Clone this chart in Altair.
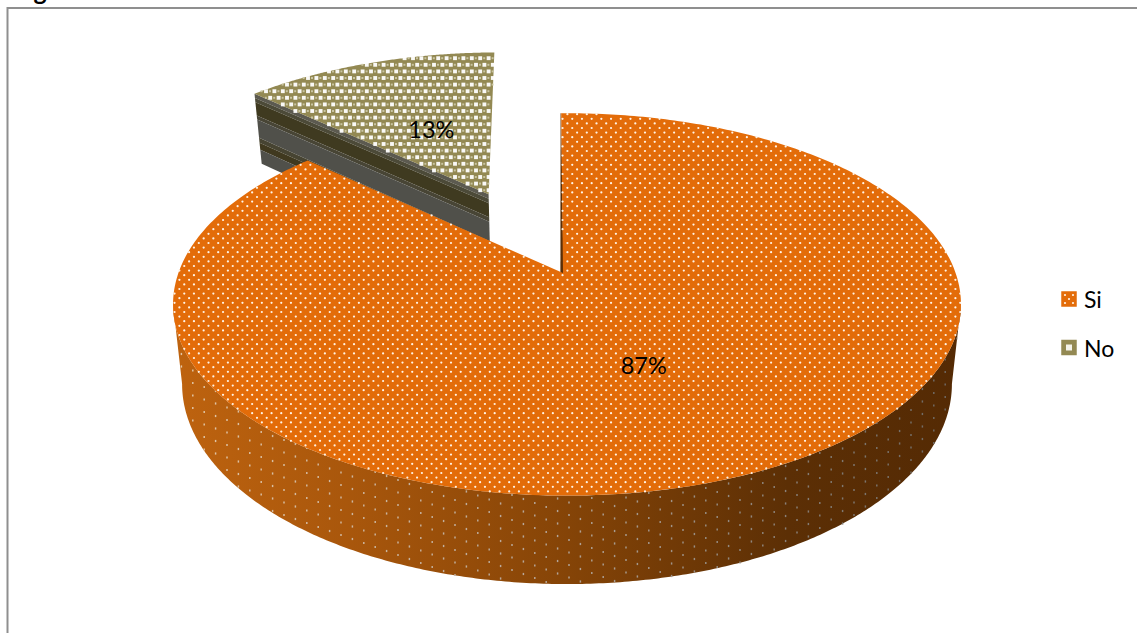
import numpy as np
import pandas as pd
import altair as alt

categories = ["Si", "No"]
shares = [87, 13]
face_colors = ["#E36C09", "#938953"]

W, H = 1137, 633

# Perspective model of the tilted pie
X0, Y0 = 567.0, 273.0
A, B, K = 388.6, 186.0, 0.1645
DEPTH, BASE_SHRINK = 80.0, 0.977
START_DEG = -1.0
EXPLODE = 0.52
HUB_EXPLODE = 0.5
HUB_U = -0.0103


def project(u, v, base=False):
    u, v = np.asarray(u, float), np.asarray(v, float)
    s = 1.0 / (1.0 - K * v)
    if base:
        s = s * BASE_SHRINK
        return X0 + A * u * s, Y0 + (B * v + DEPTH) * s
    return X0 + A * u * s, Y0 + B * v * s


def rim(a0, a1, off=(0.0, 0.0), n=160):
    t = np.radians(np.linspace(a0, a1, n))
    return np.sin(t) + off[0], -np.cos(t) + off[1]


def ring(xs, ys):
    pts = [[float(a), float(b)] for a, b in zip(xs, ys)]
    return pts + [pts[0]]


def feature(pts, key):
    return {"type": "Feature", "properties": {"key": key},
            "geometry": {"type": "Polygon", "coordinates": [pts]}}


def inside(px, py, poly):
    poly = np.asarray(poly)
    x1, y1 = poly[:-1, 0], poly[:-1, 1]
    x2, y2 = poly[1:, 0], poly[1:, 1]
    hit = np.zeros(px.shape, bool)
    for a, b, c, d in zip(x1, y1, x2, y2):
        if b == d:
            continue
        cond = ((b > py) != (d > py)) & (px < (c - a) * (py - b) / (d - b) + a)
        hit ^= cond
    return hit


def lattice(x0, x1, y0, y1, dx, dy, stagger):
    rows = []
    for j, y in enumerate(np.arange(y0, y1, dy)):
        shift = (j % 2) * stagger
        xs = np.arange(x0 + shift, x1, dx)
        rows.append(np.column_stack([xs, np.full(xs.shape, y)]))
    return np.vstack(rows)


sweep_si = 360.0 * shares[0] / sum(shares)
a_si0, a_si1 = START_DEG, START_DEG + sweep_si
a_no0, a_no1 = a_si1, START_DEG + 360.0
mid_si = np.radians((a_si0 + a_si1) / 2)
mid_no = np.radians((a_no0 + a_no1) / 2)
off_no = (np.sin(mid_no) * EXPLODE, -np.cos(mid_no) * EXPLODE)
off_hub = (np.sin(mid_no) * HUB_EXPLODE, -np.cos(mid_no) * HUB_EXPLODE)

# Top faces
hub_x, hub_y = project(HUB_U, 0.0)
u, v = rim(a_si0, a_si1, n=400)
sx, sy = project(u, v)
si_face = ring(np.r_[hub_x, sx], np.r_[hub_y, sy])

u, v = rim(a_no0, a_no1, off_no)
nx, ny = project(u, v)
hub_no_x, hub_no_y = project(HUB_U + off_hub[0], off_hub[1])
no_face = ring(np.r_[hub_no_x, nx], np.r_[hub_no_y, ny])

# Outer wall of the large slice, from silhouette point to silhouette point
edge = np.degrees(np.arcsin(K))
u, v = rim(90 + edge, 270 - edge, n=300)
tx, ty = project(u, v)
bx, by = project(u, v, base=True)
si_wall = ring(np.r_[tx, bx[::-1]], np.r_[ty, by[::-1]])

# Thin inner wall beside the gap
tip_x, tip_y = project(*rim(a_si0, a_si0, n=1))
si_inner = ring([tip_x[0], hub_x + 0.5, hub_x - 2.6, tip_x[0] - 0.6],
                [tip_y[0], hub_y, hub_y, tip_y[0]])

# Banded cut wall of the pulled-out slice
cut_u = np.array([off_no[0] + np.sin(np.radians(a_no0)), HUB_U + off_hub[0]])
cut_v = np.array([off_no[1] - np.cos(np.radians(a_no0)), off_hub[1]])
cx, cy = project(cut_u, cut_v)
dx_, dy_ = project(cut_u, cut_v, base=True)
band_edges = [0.0, 0.06, 0.12, 0.31, 0.37, 0.63, 0.7, 0.8, 1.0]
band_colors = ["#5c5a50", "#4c4a38", "#3f3a20", "#484535", "#50504a", "#474432", "#40391f", "#50504a"]
band_features = []
for i, (f0, f1) in enumerate(zip(band_edges[:-1], band_edges[1:])):
    xa, ya = cx + (dx_ - cx) * f0, cy + (dy_ - cy) * f0
    xb, yb = cx + (dx_ - cx) * f1, cy + (dy_ - cy) * f1
    band_features.append(feature(ring(np.r_[xa, xb[::-1]], np.r_[ya, yb[::-1]]), band_colors[i]))

# Pattern fills
grid = lattice(160, 975, 105, 505, 9.7, 4.6, 4.85)
si_dots = grid[inside(grid[:, 0], grid[:, 1], si_face)]

grid = lattice(245, 505, 45, 200, 8.4, 6.6, 4.2)
no_dots = grid[inside(grid[:, 0], grid[:, 1], no_face)]
grid = lattice(249, 509, 45, 200, 8.4, 6.6, 4.2)
no_glints = grid[inside(grid[:, 0], grid[:, 1], no_face)]

pts = []
for i, x in enumerate(np.arange(170, 965, 11.4)):
    ys = np.arange(300 + (i * 4) % 12.5, 595, 12.5)
    pts.append(np.column_stack([np.full(ys.shape, x), ys]))
grid = np.vstack(pts)
full_u, full_v = rim(0, 360, n=400)
full_x, full_y = project(full_u, full_v)
full_top = ring(full_x, full_y)
wall_dots = grid[inside(grid[:, 0], grid[:, 1], si_wall) & ~inside(grid[:, 0], grid[:, 1], full_top)]

# Label anchors at half radius of each slice
lab_u = [0.5 * np.sin(mid_si), 0.5 * np.sin(mid_no) + off_hub[0]]
lab_v = [-0.5 * np.cos(mid_si), -0.5 * np.cos(mid_no) + off_hub[1]]
lab_x, lab_y = project(lab_u, lab_v)

X_SCALE = alt.Scale(domain=[0, W], range=[0, W])
Y_SCALE = alt.Scale(domain=[0, H], range=[0, H])
X = alt.X("x:Q", scale=X_SCALE, axis=None)
Y = alt.Y("y:Q", scale=Y_SCALE, axis=None)
identity = dict(type="identity", scale=1, translate=[0, 0])
FONT = "Lato"


def shape_layer(features, **mark):
    return (alt.Chart(alt.Data(values=features))
            .mark_geoshape(strokeWidth=0, **mark)
            .project(**identity))


wall_layer = shape_layer(
    [feature(si_wall, "wall")],
    fill=alt.Gradient(
        gradient="linear", x1=0, x2=1, y1=0, y2=0,
        stops=[alt.GradientStop(offset=0.0, color="#BE630F"),
               alt.GradientStop(offset=0.22, color="#A9570C"),
               alt.GradientStop(offset=0.5, color="#854407"),
               alt.GradientStop(offset=0.78, color="#5C2F05"),
               alt.GradientStop(offset=1.0, color="#542A04")]),
)
band_layers = [shape_layer([f], fill=f["properties"]["key"]) for f in band_features]
no_layer = shape_layer([feature(no_face, "no")], fill=face_colors[1])
inner_layer = shape_layer([feature(si_inner, "inner")], fill="#5A2E06")
si_layer = shape_layer([feature(si_face, "si")], fill=face_colors[0])

no_dot_layer = (alt.Chart(pd.DataFrame(no_dots, columns=["x", "y"]))
                .mark_square(size=15, color="white", opacity=0.95)
                .encode(x=X, y=Y))
no_glint_layer = (alt.Chart(pd.DataFrame(no_glints, columns=["x", "y"]))
                  .mark_square(size=4, color="#CFCBAA", opacity=0.9)
                  .encode(x=X, y=Y))
si_dot_layer = (alt.Chart(pd.DataFrame(si_dots, columns=["x", "y"]))
                .mark_point(filled=True, shape="circle", size=5, color="#FFF3E6", opacity=1)
                .encode(x=X, y=Y))
wall_dot_layer = (alt.Chart(pd.DataFrame(wall_dots, columns=["x", "y"]))
                  .mark_point(filled=True, shape="M-0.6,-0.9L0.6,-0.9L0.6,0.9L-0.6,0.9Z", size=6, opacity=0.95)
                  .encode(x=X, y=Y,
                          color=alt.Color("x:Q", legend=None,
                                          scale=alt.Scale(domain=[170, 560, 960],
                                                          range=["#E6CDB0", "#B5AAA0", "#6E6A66"]))))

label_table = pd.DataFrame({"x": lab_x, "y": lab_y,
                            "label": [f"{v}%" for v in shares]})
si_label = (alt.Chart(label_table.iloc[[0]])
            .mark_text(font=FONT, fontSize=23.5, color="black", dx=-10, dy=2)
            .encode(x=X, y=Y, text="label:N"))
no_label = (alt.Chart(label_table.iloc[[1]])
            .mark_text(font=FONT, fontSize=23.5, color="black", dx=4, dy=5)
            .encode(x=X, y=Y, text="label:N"))

# Legend drawn beside the pie
legend_table = pd.DataFrame({"x": [1069, 1069], "y": [299, 347.5],
                             "tx": [1084, 1084], "label": categories, "c": face_colors})
swatches = (alt.Chart(legend_table)
            .mark_square(size=240, opacity=1, strokeWidth=0)
            .encode(x=X, y=Y, color=alt.Color("c:N", scale=None)))
swatch_marks = (alt.Chart(pd.DataFrame({"x": [1065, 1073, 1069, 1065, 1073], "y": [295, 295, 299, 303, 303]}))
                .mark_point(filled=True, shape="circle", size=5, color="#FFF3E6", opacity=1)
                .encode(x=X, y=Y))
swatch_hole = (alt.Chart(legend_table[legend_table.label == categories[1]])
               .mark_square(size=36, color="#F4F3EA", opacity=1)
               .encode(x=X, y=Y))
legend_text = (alt.Chart(legend_table)
               .mark_text(font=FONT, fontSize=23, align="left", color="black", dy=2)
               .encode(x=alt.X("tx:Q", scale=X_SCALE, axis=None), y=Y, text="label:N"))

# Frame and the descender of the clipped heading
frame_top = (alt.Chart(pd.DataFrame({"x": [7], "x2": [W], "y": [8]}))
             .mark_rule(color="#8F8F8F", strokeWidth=2)
             .encode(x=X, x2="x2:Q", y=Y))
frame_left = (alt.Chart(pd.DataFrame({"x": [7.5], "y": [7], "y2": [H]}))
              .mark_rule(color="#8F8F8F", strokeWidth=2)
              .encode(x=X, y=Y, y2="y2:Q"))
heading = (alt.Chart(pd.DataFrame({"x": [40], "y": [0], "label": ["g"]}))
           .mark_text(font=FONT, fontSize=25, fontWeight="bold", color="black", baseline="alphabetic")
           .encode(x=X, y=Y, text="label:N"))

chart = alt.layer(
    frame_top, frame_left, heading,
    *band_layers, no_layer, no_dot_layer, no_glint_layer,
    wall_layer, wall_dot_layer, inner_layer, si_layer, si_dot_layer,
    si_label, no_label, swatches, swatch_marks, swatch_hole, legend_text,
).properties(
    width=W, height=H, padding=0, autosize=alt.AutoSizeParams(type="none"),
    background="white",
).resolve_scale(color="independent").configure_view(stroke=None)

chart.save("out.html", embed_options={"renderer": "svg", "actions": False})
